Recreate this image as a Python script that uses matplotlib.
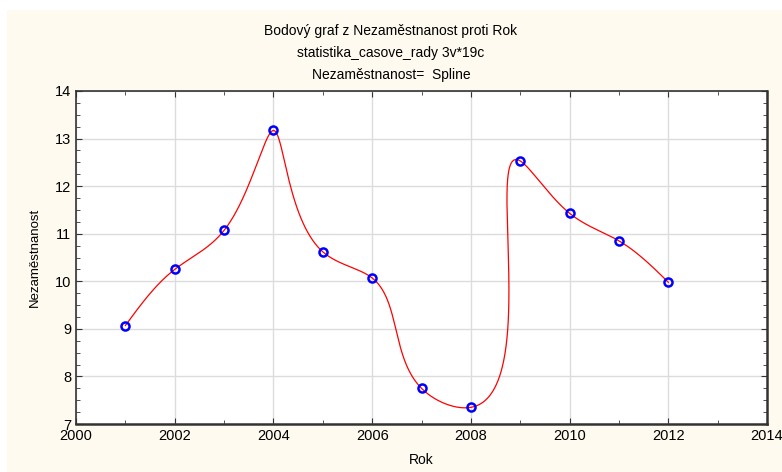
import numpy as np
import matplotlib
matplotlib.use("Agg")
import matplotlib.pyplot as plt
from matplotlib.patches import Rectangle
from matplotlib.ticker import MultipleLocator

plt.rcParams['font.family'] = ['Liberation Sans', 'DejaVu Sans']

rok = [2001, 2002, 2003, 2004, 2005, 2006, 2007, 2008, 2009, 2010, 2011, 2012]
nezamestnanost = [9.07, 10.25, 11.07, 13.17, 10.62, 10.07, 7.75, 7.35, 12.53, 11.43, 10.85, 9.98]

XLIM = (2000, 2014)
YLIM = (7, 14)
TITLE = "Bodový graf z Nezaměstnanost proti Rok\nstatistika_casove_rady 3v*19c\nNezaměstnanost=  Spline"


def natural_spline(t, v, tt):
    # natural cubic spline through (t, v), evaluated at tt
    n = len(t)
    h = np.diff(t)
    A = np.zeros((n, n))
    b = np.zeros(n)
    A[0, 0] = A[-1, -1] = 1.0
    for i in range(1, n - 1):
        A[i, i - 1] = h[i - 1]
        A[i, i] = 2 * (h[i - 1] + h[i])
        A[i, i + 1] = h[i]
        b[i] = 3 * ((v[i + 1] - v[i]) / h[i] - (v[i] - v[i - 1]) / h[i - 1])
    c = np.linalg.solve(A, b)
    out = np.empty_like(tt)
    for k, x in enumerate(tt):
        i = min(np.searchsorted(t, x, side="right") - 1, n - 2)
        i = max(i, 0)
        dx = x - t[i]
        bi = (v[i + 1] - v[i]) / h[i] - h[i] * (2 * c[i] + c[i + 1]) / 3
        di = (c[i + 1] - c[i]) / (3 * h[i])
        out[k] = v[i] + bi * dx + c[i] * dx ** 2 + di * dx ** 3
    return out


# parametric spline, chord length measured in screen proportions
x = np.array(rok, dtype=float)
y = np.array(nezamestnanost, dtype=float)
sx, sy = 691 / 14, 333 / 7
d = np.hypot(np.diff(x) * sx, np.diff(y) * sy)
t = np.concatenate([[0], np.cumsum(d)])
tt = np.linspace(0, t[-1], 2000)
xs = natural_spline(t, x, tt)
ys = natural_spline(t, y, tt)

fig = plt.figure(figsize=(7.82, 4.72), dpi=100, facecolor="white")
fig.patches.append(Rectangle((7 / 782, 0), 1, 462 / 472, transform=fig.transFigure,
                             facecolor="#fefaf0", edgecolor="none", zorder=-10))
ax = fig.add_axes([76 / 782, 48 / 472, 691 / 782, 333 / 472])
ax.set_facecolor("white")

ax.plot(xs, ys, color="red", lw=0.9, zorder=3)
ax.plot(x, y, "o", ms=5.8, mfc="none", mec="blue", mew=1.8, zorder=4)

ax.set_xlim(*XLIM)
ax.set_ylim(*YLIM)
ax.xaxis.set_major_locator(MultipleLocator(2))
ax.xaxis.set_minor_locator(MultipleLocator(1))
ax.yaxis.set_major_locator(MultipleLocator(1))
ax.yaxis.set_minor_locator(MultipleLocator(0.25))
ax.grid(True, which="major", color="#dcdcdc", lw=1)
ax.set_axisbelow(True)
ax.tick_params(which="both", direction="in", top=True, right=True, labelsize=10.5,
               color="#333333")
ax.tick_params(which="major", length=4)
ax.tick_params(which="minor", length=3)
for s in ax.spines.values():
    s.set_color("#333333")
    s.set_linewidth(1.2)
ax.spines["right"].set_linewidth(1.8)
ax.spines["bottom"].set_linewidth(1.8)

ax.set_xlabel("Rok", fontsize=10, labelpad=7)
ax.set_ylabel("Nezaměstnanost", fontsize=9.5, labelpad=10)
fig.text(0.5, 1 - 53 / 472, TITLE, ha="center", va="center", fontsize=10,
         linespacing=1.75)

fig.savefig("out.png", dpi=100, facecolor=fig.get_facecolor())
